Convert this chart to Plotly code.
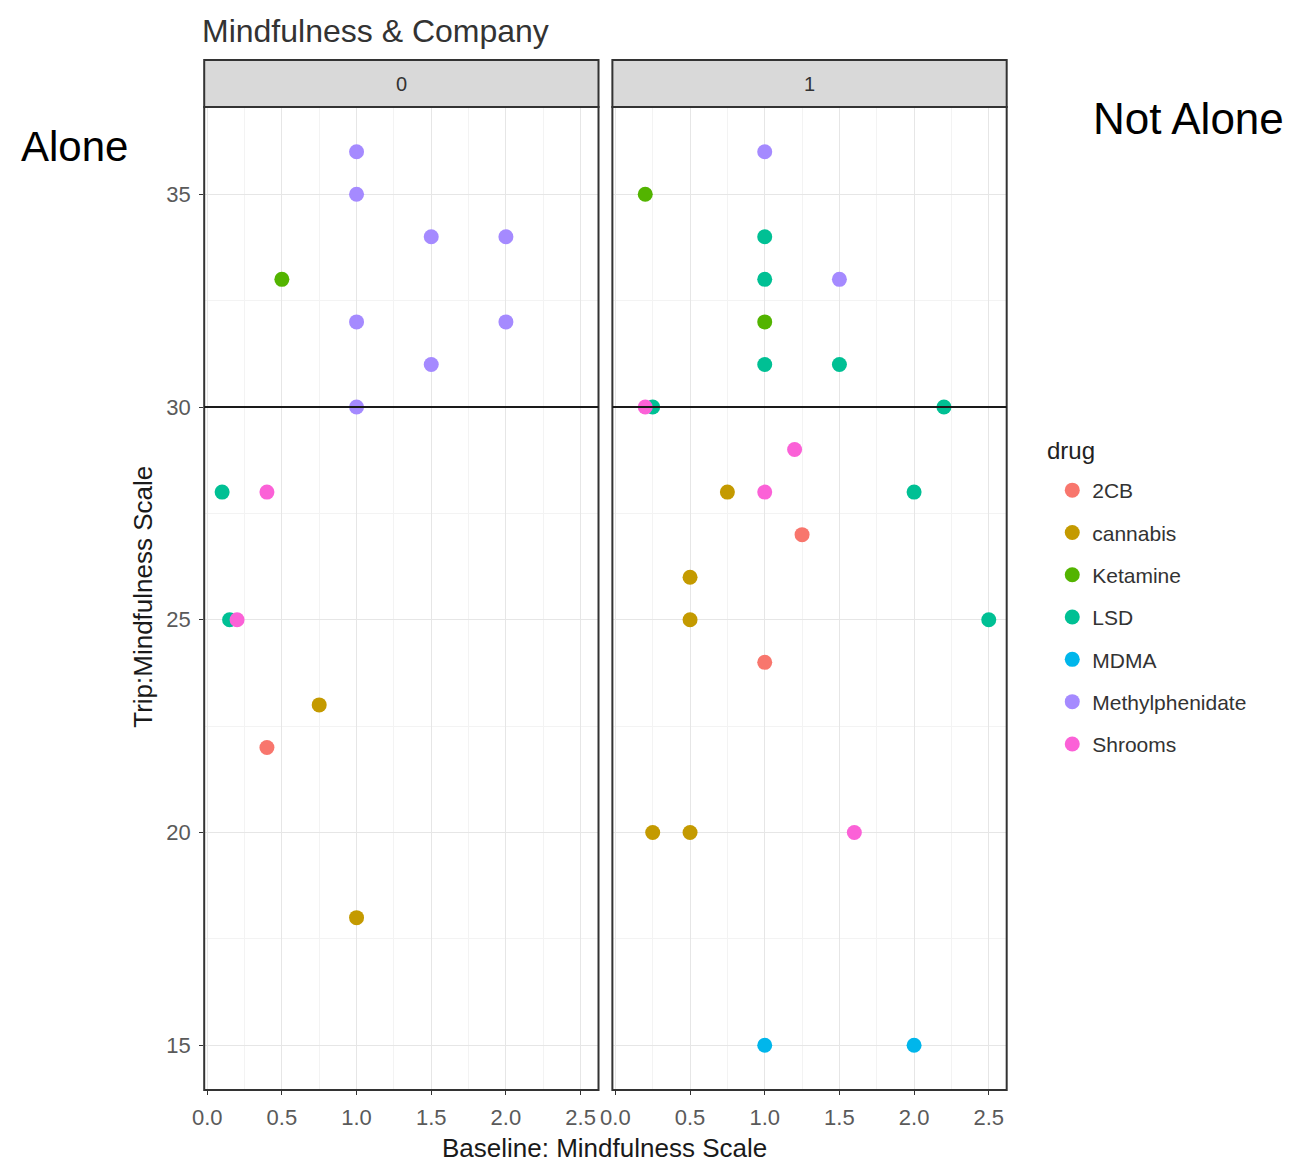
import plotly.graph_objects as go

# ---- data: baseline vs trip mindfulness, split by company (0 = alone, 1 = not alone)
drugs = ["2CB", "cannabis", "Ketamine", "LSD", "MDMA", "Methylphenidate", "Shrooms"]
colors = ["#F8766D", "#C49A00", "#53B400", "#00C094", "#00B6EB", "#A58AFF", "#FB61D7"]

alone_x = {
    "2CB": [0.4],
    "cannabis": [0.75, 1.0],
    "Ketamine": [0.5],
    "LSD": [0.1, 0.15],
    "MDMA": [],
    "Methylphenidate": [1.0, 1.0, 1.5, 2.0, 1.0, 2.0, 1.5, 1.0],
    "Shrooms": [0.4, 0.2],
}
alone_y = {
    "2CB": [22],
    "cannabis": [23, 18],
    "Ketamine": [33],
    "LSD": [28, 25],
    "MDMA": [],
    "Methylphenidate": [36, 35, 34, 34, 32, 32, 31, 30],
    "Shrooms": [28, 25],
}
company_x = {
    "2CB": [1.25, 1.0],
    "cannabis": [0.75, 0.5, 0.5, 0.25, 0.5],
    "Ketamine": [0.2, 1.0],
    "LSD": [1.0, 1.0, 1.0, 1.5, 0.25, 2.2, 2.0, 2.5],
    "MDMA": [1.0, 2.0],
    "Methylphenidate": [1.0, 1.5],
    "Shrooms": [0.2, 1.2, 1.0, 1.6],
}
company_y = {
    "2CB": [27, 24],
    "cannabis": [28, 26, 25, 20, 20],
    "Ketamine": [35, 32],
    "LSD": [34, 33, 31, 31, 30, 30, 28, 25],
    "MDMA": [15, 15],
    "Methylphenidate": [36, 33],
    "Shrooms": [30, 29, 28, 20],
}
facet_labels = ["0", "1"]
threshold = 30

x_ticks = [0.0, 0.5, 1.0, 1.5, 2.0, 2.5]
y_ticks = [15, 20, 25, 30, 35]

W, H = 1294, 1163
FONT = "Liberation Sans, Arial, sans-serif"


def px_x(p):
    return p / W


def px_y(p):
    return 1 - p / H


panels = [(194, 592), (606, 1004)]
panel_top, panel_bot = 107, 1090
strip_top = 60

fig = go.Figure()

for i, d in enumerate(drugs):
    facets = [(alone_x, alone_y), (company_x, company_y)]
    # legend entry goes on the first facet that actually holds points for this drug
    legend_k = 0 if alone_x[d] else 1
    for k, (xs, ys) in enumerate(facets):
        fig.add_trace(go.Scatter(
            x=xs[d], y=ys[d], mode="markers", name=d,
            legendgroup=d, showlegend=(k == legend_k), legendrank=i + 1,
            marker=dict(color=colors[i], size=15, line=dict(width=0)),
            xaxis="x" if k == 0 else "x2",
            yaxis="y" if k == 0 else "y2",
        ))

axis_common = dict(
    range=[-0.02, 2.62], tickvals=x_ticks, tickformat=".1f",
    ticks="outside", ticklen=4, tickcolor="#333333", ticklabelstandoff=4,
    tickfont=dict(family=FONT, size=22, color="#5A5A5A"),
    showgrid=True, gridcolor="#E6E6E6", gridwidth=1, zeroline=False,
    minor=dict(dtick=0.25, tick0=0, showgrid=True, gridcolor="#F3F3F3", gridwidth=1),
    showline=False,
)
yaxis_common = dict(
    range=[13.95, 37.05], tickvals=y_ticks,
    ticks="outside", ticklen=4, tickcolor="#333333", ticklabelstandoff=4,
    tickfont=dict(family=FONT, size=22, color="#5A5A5A"),
    showgrid=True, gridcolor="#E6E6E6", gridwidth=1, zeroline=False,
    minor=dict(dtick=2.5, tick0=0, showgrid=True, gridcolor="#F3F3F3", gridwidth=1),
    showline=False,
    domain=[px_y(panel_bot), px_y(panel_top)],
)

fig.update_layout(
    width=W, height=H,
    margin=dict(l=0, r=0, t=0, b=0),
    paper_bgcolor="white", plot_bgcolor="white",
    xaxis=dict(axis_common, domain=[px_x(panels[0][0]), px_x(panels[0][1])], anchor="y"),
    xaxis2=dict(axis_common, domain=[px_x(panels[1][0]), px_x(panels[1][1])], anchor="y2"),
    yaxis=dict(yaxis_common, anchor="x"),
    yaxis2=dict(yaxis_common, anchor="x2", showticklabels=False, ticks="", matches="y"),
    legend=dict(
        x=px_x(1050), y=px_y(470), xanchor="left", yanchor="top",
        font=dict(family=FONT, size=21, color="#333333"),
        tracegroupgap=12, bgcolor="rgba(0,0,0,0)",
    ),
    showlegend=True,
)

shapes = []
for j, (x0, x1) in enumerate(panels):
    # strip header
    shapes.append(dict(type="rect", xref="paper", yref="paper",
                       x0=px_x(x0), x1=px_x(x1), y0=px_y(panel_top), y1=px_y(strip_top),
                       fillcolor="#D9D9D9", line=dict(color="#333333", width=2), layer="above"))
    # panel border
    shapes.append(dict(type="rect", xref="paper", yref="paper",
                       x0=px_x(x0), x1=px_x(x1), y0=px_y(panel_bot), y1=px_y(panel_top),
                       fillcolor="rgba(0,0,0,0)", line=dict(color="#333333", width=2), layer="above"))
    # reference line at the threshold
    xa = "x" if j == 0 else "x2"
    ya = "y" if j == 0 else "y2"
    shapes.append(dict(type="line", xref=f"{xa} domain", yref=ya,
                       x0=0, x1=1, y0=threshold, y1=threshold,
                       line=dict(color="#1A1A1A", width=2), layer="above"))
fig.update_layout(shapes=shapes)

annotations = []
for j, (x0, x1) in enumerate(panels):
    annotations.append(dict(text=facet_labels[j], xref="paper", yref="paper",
                            x=px_x((x0 + x1) / 2), y=px_y((strip_top + panel_top) / 2 + 1),
                            xanchor="center", yanchor="middle",
                            showarrow=False, font=dict(family=FONT, size=20, color="#333333")))
annotations += [
    dict(text="Mindfulness & Company", xref="paper", yref="paper",
         x=px_x(190), y=px_y(31), xanchor="left", yanchor="middle", showarrow=False,
         font=dict(family=FONT, size=32, color="#333333")),
    dict(text="Alone", xref="paper", yref="paper",
         x=px_x(7), y=px_y(146), xanchor="left", yanchor="middle", showarrow=False,
         font=dict(family=FONT, size=42, color="#000000")),
    dict(text="Not Alone", xref="paper", yref="paper",
         x=px_x(1089), y=px_y(119), xanchor="left", yanchor="middle", showarrow=False,
         font=dict(family=FONT, size=44, color="#000000")),
    dict(text="drug", xref="paper", yref="paper",
         x=px_x(1043), y=px_y(450), xanchor="left", yanchor="middle", showarrow=False,
         font=dict(family=FONT, size=24, color="#222222")),
    dict(text="Trip:Mindfulness Scale", xref="paper", yref="paper",
         x=px_x(132), y=px_y(597), xanchor="center", yanchor="middle", showarrow=False,
         textangle=-90, font=dict(family=FONT, size=26, color="#1A1A1A")),
    dict(text="Baseline: Mindfulness Scale", xref="paper", yref="paper",
         x=px_x(598), y=px_y(1148), xanchor="center", yanchor="middle", showarrow=False,
         font=dict(family=FONT, size=26, color="#1A1A1A")),
]
fig.update_layout(annotations=annotations)

fig.write_html("out.html")
